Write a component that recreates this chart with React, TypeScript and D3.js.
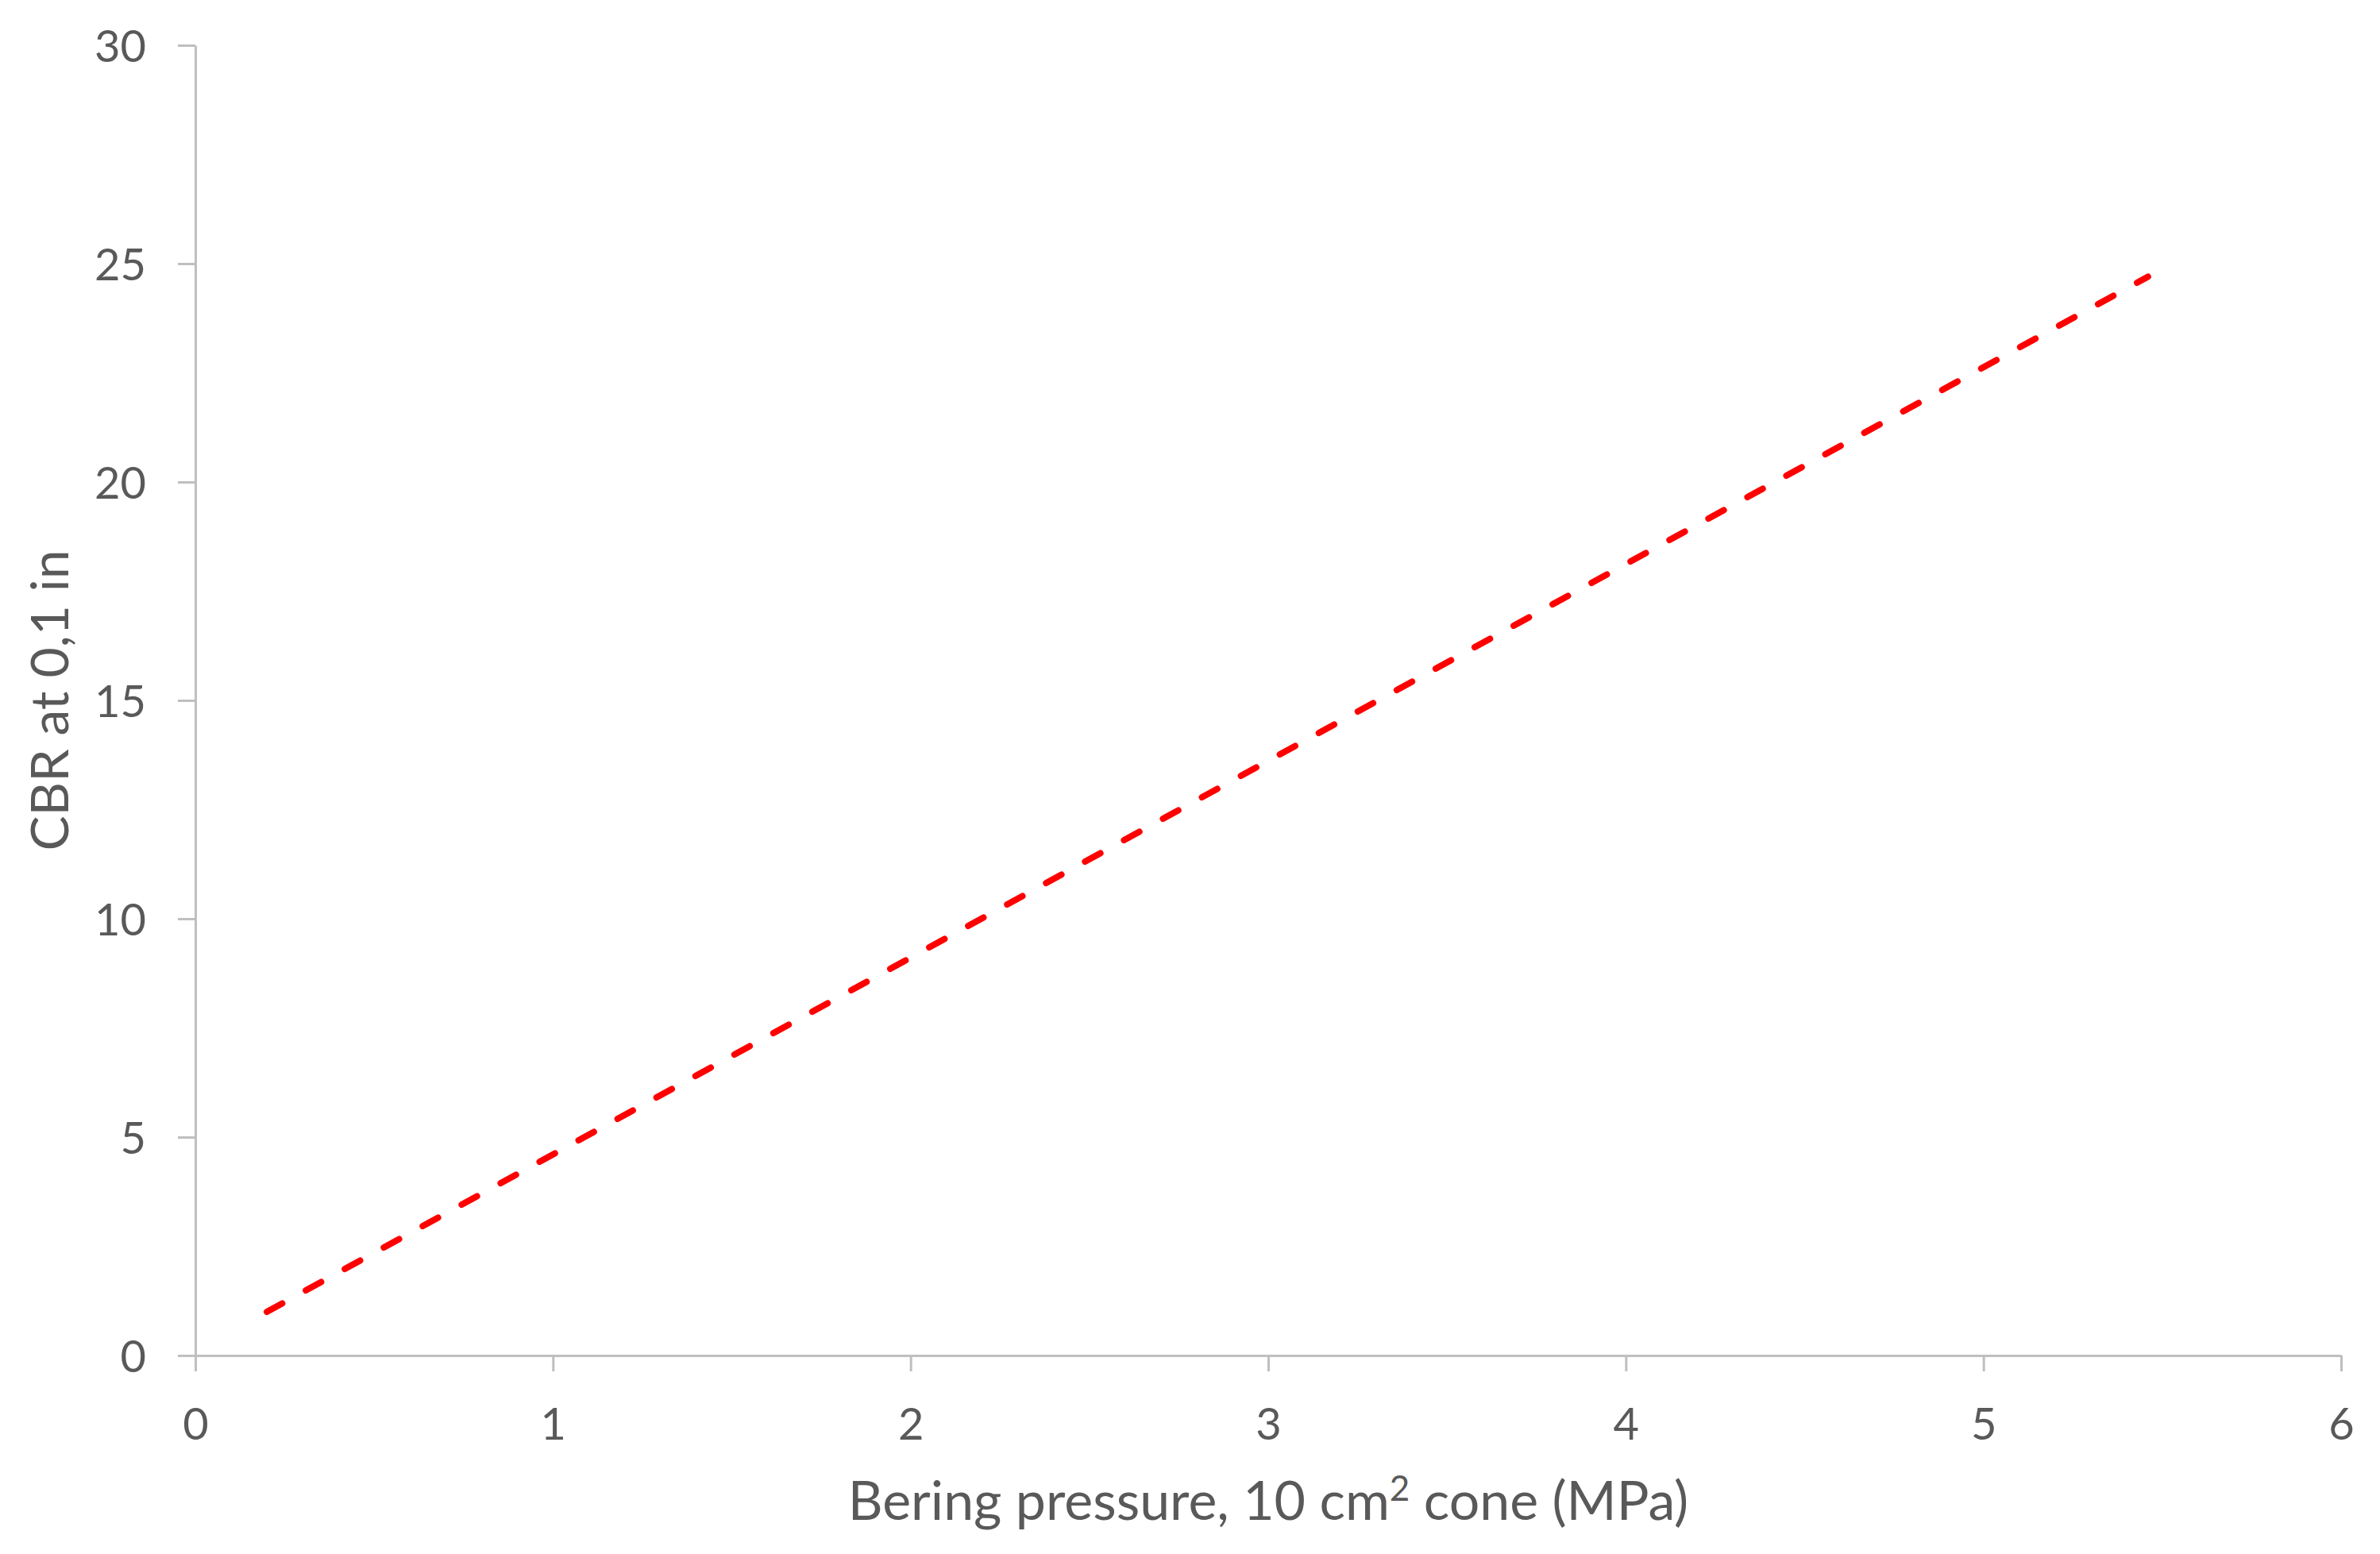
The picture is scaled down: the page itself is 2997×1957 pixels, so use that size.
import React, { useEffect, useRef } from "react";
import * as d3 from "d3";

// trend line (start and end of the dashed line)
const pressure = [0.2, 5.46];
const cbr = [1.0, 24.7];
const xTicks = [0, 1, 2, 3, 4, 5, 6];
const yTicks = [0, 5, 10, 15, 20, 25, 30];

const App = () => {
  const ref = useRef<SVGSVGElement>(null);

  useEffect(() => {
    const width = 2997, height = 1957;
    const margin = { left: 246, right: 49, top: 57, bottom: 250 };
    const font = "Lato, 'Open Sans', sans-serif";
    const textColor = "#595959";
    const axisColor = "#bfbfbf";

    const svg = d3.select(ref.current);
    svg.selectAll("*").remove();

    const x = d3.scaleLinear().domain([0, 6]).range([margin.left, width - margin.right]);
    const y = d3.scaleLinear().domain([0, 30]).range([height - margin.bottom, margin.top]);

    // y axis
    const yAxis = svg.append("g")
      .attr("transform", `translate(${margin.left},0)`)
      .call(d3.axisLeft(y).tickValues(yTicks).tickFormat(d3.format("d")).tickSize(22).tickPadding(40).tickSizeOuter(0));
    yAxis.select(".domain").attr("stroke", axisColor).attr("stroke-width", 3);
    yAxis.selectAll(".tick line").attr("stroke", axisColor).attr("stroke-width", 3);
    yAxis.selectAll(".tick text")
      .attr("fill", textColor)
      .style("font-family", font)
      .style("font-size", "56px")
      .attr("dy", "0.36em");

    // x axis
    const xAxis = svg.append("g")
      .attr("transform", `translate(0,${height - margin.bottom})`)
      .call(d3.axisBottom(x).tickValues(xTicks).tickFormat(d3.format("d")).tickSize(20).tickPadding(64).tickSizeOuter(0));
    xAxis.select(".domain").attr("stroke", axisColor).attr("stroke-width", 3);
    xAxis.selectAll(".tick line").attr("stroke", axisColor).attr("stroke-width", 3);
    xAxis.selectAll(".tick text")
      .attr("fill", textColor)
      .style("font-family", font)
      .style("font-size", "56px")
      .attr("dy", "0.4em");

    // dashed trend line
    const pts = pressure.map((p, i) => [p, cbr[i]] as [number, number]);
    const line = d3.line<[number, number]>().x(d => x(d[0])).y(d => y(d[1]));
    svg.append("path")
      .datum(pts)
      .attr("d", line)
      .attr("fill", "none")
      .attr("stroke", "#ff0000")
      .attr("stroke-width", 8)
      .attr("stroke-linecap", "round")
      .attr("stroke-dasharray", "22,34");

    // x title
    const xt = svg.append("text")
      .attr("x", (x(0) + x(6)) / 2)
      .attr("y", 1914)
      .attr("text-anchor", "middle")
      .attr("fill", textColor)
      .style("font-family", font)
      .style("font-size", "68px");
    xt.append("tspan").text("Bering pressure, 10 cm");
    xt.append("tspan").attr("dy", -24).style("font-size", "44px").text("2");
    xt.append("tspan").attr("dy", 24).text(" cone (MPa)");

    // y title
    svg.append("text")
      .attr("transform", `translate(86,${(y(0) + y(30)) / 2}) rotate(-90)`)
      .attr("text-anchor", "middle")
      .attr("fill", textColor)
      .style("font-family", font)
      .style("font-size", "66px")
      .text("CBR at 0,1 in");
  }, []);

  return (
    <svg ref={ref} width={2997} height={1957}
      style={{ position: "absolute", left: 0, top: 0, background: "#fff" }} />
  );
};

export default App;
